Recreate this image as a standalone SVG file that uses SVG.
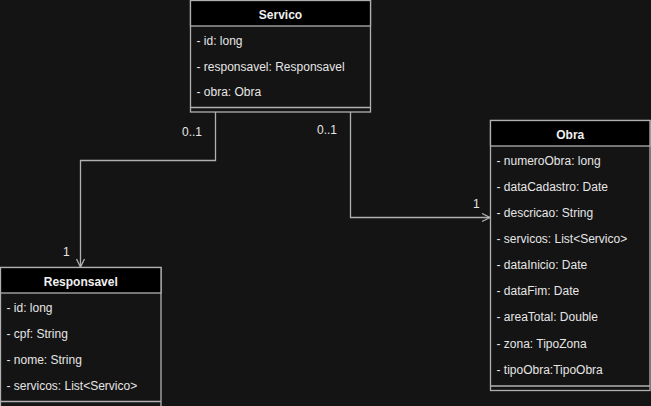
<svg xmlns="http://www.w3.org/2000/svg" width="651" height="406" viewBox="0 0 651 406">
<defs>
<style>
.box{fill:#141414;stroke:#b0b0b0;stroke-width:1.3}
.hdr{fill:#000;stroke:#b0b0b0;stroke-width:1.3}
.sep{stroke:#b0b0b0;stroke-width:1.3;fill:none}
.t{font-family:"Liberation Sans",Arial,sans-serif;font-size:12px;fill:#e6e6e6}
.h{font-family:"Liberation Sans",Arial,sans-serif;font-size:12px;font-weight:bold;fill:#f0f0f0;text-anchor:middle}
.conn{fill:none;stroke:#b0b0b0;stroke-width:1.3}
</style>
<marker id="open" markerWidth="12" markerHeight="12" refX="9" refY="5" orient="auto" markerUnits="userSpaceOnUse">
<path d="M1,1 L9,5 L1,9" fill="none" stroke="#b0b0b0" stroke-width="1.3"/>
</marker>
</defs>
<rect width="651" height="406" fill="#141414"/>
<g id="connectors">
<path class="conn" d="M215.5,112 V160.5 H80.5 V267" marker-end="url(#open)"/>
<path class="conn" d="M350.5,112 V217.5 H490" marker-end="url(#open)"/>
<text class="t" x="182" y="136">0..1</text>
<text class="t" x="63" y="256">1</text>
<text class="t" x="317" y="134">0..1</text>
<text class="t" x="473" y="208">1</text>
</g>
<g id="Servico">
<rect class="box" x="190.5" y="0.5" width="180" height="111.5"/>
<rect class="hdr" x="190.5" y="0.5" width="180" height="25.5"/>
<text class="h" x="280.5" y="18.5">Servico</text>
<text class="t" x="196.5" y="44.5">- id: long</text>
<text class="t" x="196.5" y="70.5">- responsavel: Responsavel</text>
<text class="t" x="196.5" y="96">- obra: Obra</text>
<line class="sep" x1="190.5" y1="107.5" x2="370.5" y2="107.5"/>
</g>
<g id="Responsavel">
<rect class="box" x="0.5" y="267.5" width="160.5" height="140"/>
<rect class="hdr" x="0.5" y="267.5" width="160.5" height="25.5"/>
<text class="h" x="80.75" y="286">Responsavel</text>
<text class="t" x="6.5" y="311.5">- id: long</text>
<text class="t" x="6.5" y="337.5">- cpf: String</text>
<text class="t" x="6.5" y="363.5">- nome: String</text>
<text class="t" x="6.5" y="389.5">- servicos: List&lt;Servico&gt;</text>
<line class="sep" x1="0.5" y1="401.5" x2="161" y2="401.5"/>
</g>
<g id="Obra">
<rect class="box" x="490.5" y="120.5" width="159.5" height="270"/>
<rect class="hdr" x="490.5" y="120.5" width="159.5" height="25.5"/>
<text class="h" x="570.25" y="139">Obra</text>
<text class="t" x="496.5" y="165">- numeroObra: long</text>
<text class="t" x="496.5" y="190.5">- dataCadastro: Date</text>
<text class="t" x="496.5" y="216.5">- descricao: String</text>
<text class="t" x="496.5" y="242.5">- servicos: List&lt;Servico&gt;</text>
<text class="t" x="496.5" y="269">- dataInicio: Date</text>
<text class="t" x="496.5" y="295">- dataFim: Date</text>
<text class="t" x="496.5" y="321">- areaTotal: Double</text>
<text class="t" x="496.5" y="348">- zona: TipoZona</text>
<text class="t" x="496.5" y="374">- tipoObra:TipoObra</text>
<line class="sep" x1="490.5" y1="386" x2="650" y2="386"/>
</g>
</svg>
